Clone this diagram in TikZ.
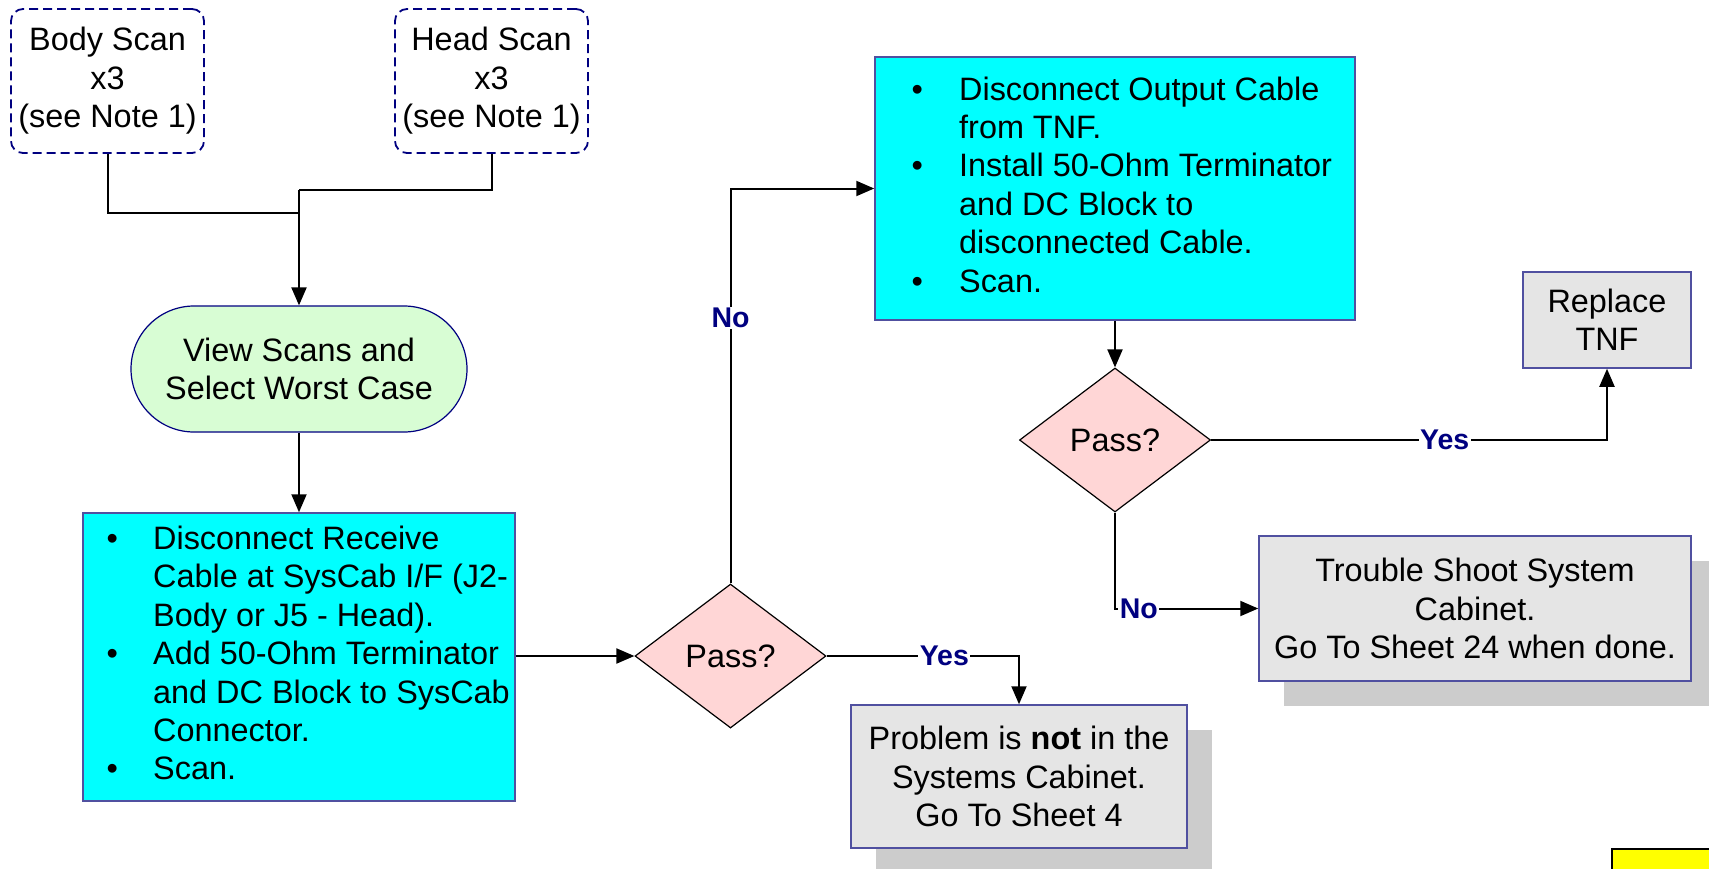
\documentclass[tikz,border=0pt]{standalone}
\usepackage{fontspec}
\setmainfont{Liberation Sans}
\usetikzlibrary{shapes.geometric,shadows,arrows.meta}

\definecolor{navy}{RGB}{0,0,128}
\definecolor{boxedge}{RGB}{80,80,160}
\definecolor{cyanfill}{RGB}{0,255,255}
\definecolor{greenfill}{RGB}{216,253,212}
\definecolor{pinkfill}{RGB}{255,214,214}
\definecolor{grayfill}{RGB}{229,229,229}
\definecolor{shadowgray}{RGB}{204,204,204}
\definecolor{noteyellow}{RGB}{255,255,0}

\begin{document}
\begin{tikzpicture}[x=1pt,y=-1pt,
  font=\fontsize{32.4}{38.4}\selectfont,
  conn/.style={line width=2pt},
  arr/.style={line width=2pt,-{Triangle[length=18pt,width=15pt]}},
  scanbox/.style={draw=navy,dashed,dash pattern=on 9pt off 5pt,line width=1.8pt,
    rounded corners=12pt,align=center,inner sep=0pt},
  startbox/.style={draw=navy,line width=1.2pt,fill=greenfill,rounded corners=63pt,
    align=center,inner sep=0pt},
  cyanbox/.style={draw=boxedge,line width=1.5pt,fill=cyanfill,inner sep=0pt},
  graybox/.style={draw=boxedge,line width=1.5pt,fill=grayfill,align=center,inner sep=0pt},
  shadowbox/.style={graybox,general shadow={fill=shadowgray,shadow xshift=25pt,shadow yshift=-25pt}},
  decision/.style={diamond,draw=black,line width=1.2pt,fill=pinkfill,aspect=1.33,
    inner sep=0pt,minimum width=191pt,minimum height=144pt},
  lbl/.style={font=\fontsize{28.5}{32}\selectfont\bfseries,text=navy,fill=white,inner sep=1.5pt},
  txt/.style={anchor=west,inner sep=0pt}
]
\useasboundingbox (0,0) rectangle (1709,868);
\clip (0,0) rectangle (1709,868);

% scan sources
\node[scanbox,minimum width=193pt,minimum height=144pt] (body) at (107.5,81) {Body Scan\\x3\\(see Note 1)};
\node[scanbox,minimum width=193pt,minimum height=144pt] (head) at (491.5,81) {Head Scan\\x3\\(see Note 1)};

% selection step
\node[startbox,minimum width=336pt,minimum height=126pt] (view) at (299,369) {View Scans and\\Select Worst Case};

% first test step
\node[cyanbox,minimum width=432pt,minimum height=288pt] (recv) at (299,657) {};
\node[txt] (recvtext) at (106.5,657) {\begin{tabular}{@{}p{46.5pt}@{}l@{}}
• & Disconnect Receive\\
  & Cable at SysCab I/F (J2-\\
  & Body or J5 - Head).\\
• & Add 50-Ohm Terminator\\
  & and DC Block to SysCab\\
  & Connector.\\
• & Scan.
\end{tabular}};

\node[decision] (pass1) at (730.5,656) {Pass?};

% second test step
\node[cyanbox,minimum width=480pt,minimum height=263pt] (outc) at (1115,188.5) {};
\node[txt] (outctext) at (911.5,188.5) {\begin{tabular}{@{}p{47.5pt}@{}l@{}}
• & Disconnect Output Cable\\
  & from TNF.\\
• & Install 50-Ohm Terminator\\
  & and DC Block to\\
  & disconnected Cable.\\
• & Scan.
\end{tabular}};

\node[decision] (pass2) at (1115,440) {Pass?};

% outcomes
\node[shadowbox,minimum width=336pt,minimum height=143pt] (notcab) at (1019,776.5)
  {Problem is \textbf{not} in the\\Systems Cabinet.\\Go To Sheet 4};
\node[graybox,minimum width=168pt,minimum height=96pt] (tnf) at (1607,320) {Replace\\TNF};
\node[shadowbox,minimum width=432pt,minimum height=145pt] (cab) at (1475,608.5)
  {Trouble Shoot System\\Cabinet.\\Go To Sheet 24 when done.};

\node[draw=black,line width=1.5pt,fill=noteyellow,minimum width=120pt,minimum height=40pt,
  anchor=north west] (note) at (1611,848) {};

% connectors
\coordinate (jb) at (299,213);
\coordinate (jh) at (299,190);
\draw[conn] (body.south) |- (jb);
\draw[conn] (head.south) |- (jh);
\draw[arr] (jh) -- (view.north);
\draw[arr] (view.south) -- (recv.north);
\draw[arr] (recv.east |- pass1.west) -- (pass1.west);
\draw[arr] (pass1.north) |- (outc.west) node[lbl,pos=0.336] {No};
\draw[arr] (pass1.east) -| (notcab.north) node[lbl,pos=0.306] {Yes};
\draw[arr] (outc.south) -- (pass2.north);
\draw[arr] (pass2.east) -| (tnf.south) node[lbl,pos=0.295] {Yes};
\draw[arr] (pass2.south) |- (cab.west) node[lbl,pos=0.583] {No};
\end{tikzpicture}
\end{document}
